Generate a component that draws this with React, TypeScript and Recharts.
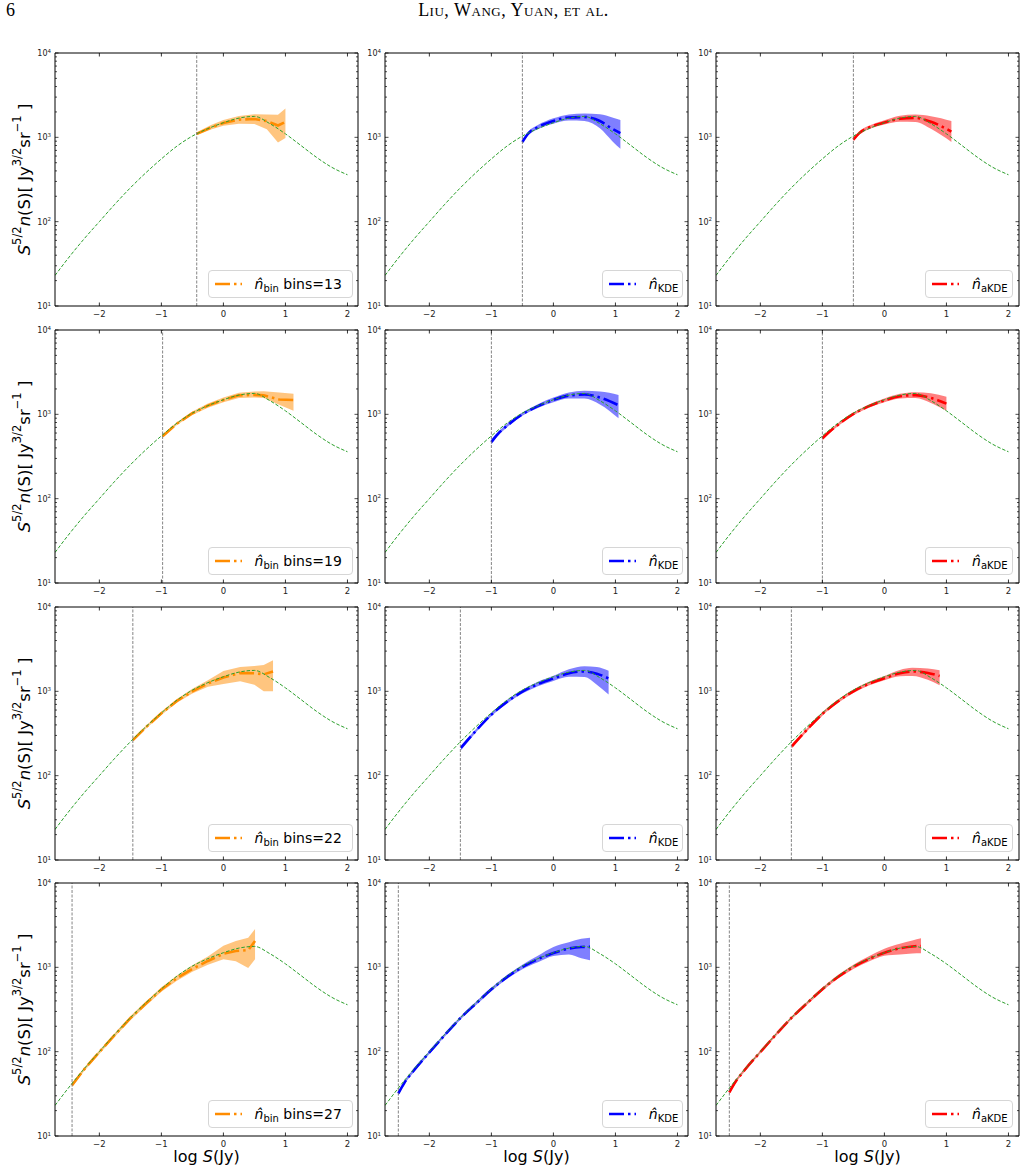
import React from "react";
import { ComposedChart, Line, Area, XAxis, YAxis, ReferenceLine, Legend } from "recharts";

// model source counts (green dashed curve), log S vs S^{5/2} n(S)
const modelLogS = [-2.715, -2.5, -2.25, -2, -1.75, -1.5, -1.25, -1, -0.75, -0.5, -0.25, 0, 0.25, 0.5, 0.75, 1, 1.25, 1.5, 1.75, 2];
const modelCounts = [23, 37, 62, 100, 161, 252, 380, 555, 785, 1035, 1268, 1490, 1690, 1770, 1450, 1100, 800, 580, 440, 360];

const xTicks = [-2, -1, 0, 1, 2];
const yMajorTicks = [10, 100, 1000, 10000];
const yMinorTicks = [20, 30, 40, 50, 60, 70, 80, 90, 200, 300, 400, 500, 600, 700, 800, 900, 2000, 3000, 4000, 5000, 6000, 7000, 8000, 9000];

// lower flux limits (vertical dashed line) per row: [bin, KDE, aKDE]
const lowerLimits = [
  [-0.43, -0.5, -0.5],
  [-0.98, -1.0, -1.0],
  [-1.46, -1.5, -1.5],
  [-2.44, -2.5, -2.5],
];
const binCounts = [13, 19, 22, 27];

// each row: [log S, estimate, lower, upper]
const bin13 = [
  [-0.43, 1100, 1060, 1150],
  [-0.2, 1310, 1240, 1400],
  [0.0, 1480, 1370, 1600],
  [0.25, 1620, 1450, 1790],
  [0.5, 1650, 1440, 1880],
  [0.7, 1560, 1250, 1860],
  [0.88, 1380, 870, 1850],
  [1.0, 1520, 980, 2200],
];
const kde1 = [
  [-0.5, 880, 850, 930],
  [-0.4, 1120, 1070, 1180],
  [-0.25, 1320, 1250, 1400],
  [0, 1560, 1450, 1680],
  [0.25, 1720, 1580, 1870],
  [0.5, 1740, 1560, 1920],
  [0.75, 1560, 1280, 1880],
  [0.95, 1260, 900, 1720],
  [1.08, 1120, 730, 1600],
];
const akde1 = [
  [-0.5, 940, 900, 1000],
  [-0.4, 1130, 1080, 1190],
  [-0.2, 1350, 1290, 1420],
  [0, 1500, 1420, 1590],
  [0.25, 1660, 1530, 1800],
  [0.5, 1700, 1520, 1860],
  [0.75, 1530, 1260, 1780],
  [1.08, 1170, 880, 1560],
];

const bin19 = [
  [-0.98, 550, 530, 575],
  [-0.75, 775, 745, 805],
  [-0.5, 1030, 980, 1080],
  [-0.25, 1270, 1200, 1340],
  [0, 1480, 1390, 1580],
  [0.25, 1680, 1560, 1800],
  [0.5, 1700, 1580, 1860],
  [0.65, 1680, 1560, 1880],
  [0.9, 1500, 1300, 1820],
  [1.13, 1480, 1100, 1750],
];
const kde2 = [
  [-1.0, 470, 440, 510],
  [-0.9, 580, 550, 610],
  [-0.75, 730, 700, 770],
  [-0.5, 1000, 960, 1050],
  [-0.25, 1250, 1190, 1320],
  [0, 1480, 1390, 1580],
  [0.25, 1670, 1540, 1820],
  [0.5, 1720, 1540, 1900],
  [0.75, 1580, 1310, 1870],
  [1.05, 1280, 900, 1700],
];
const akde2 = [
  [-1.0, 520, 490, 555],
  [-0.9, 610, 580, 640],
  [-0.75, 750, 720, 785],
  [-0.5, 1010, 970, 1050],
  [-0.25, 1250, 1200, 1310],
  [0, 1460, 1390, 1540],
  [0.25, 1640, 1540, 1750],
  [0.5, 1690, 1560, 1830],
  [0.75, 1560, 1360, 1780],
  [1.0, 1340, 1100, 1620],
];

const bin22 = [
  [-1.46, 264, 255, 275],
  [-1.25, 375, 360, 390],
  [-1.0, 550, 525, 575],
  [-0.75, 770, 730, 810],
  [-0.5, 1000, 940, 1070],
  [-0.25, 1240, 1130, 1350],
  [0, 1460, 1220, 1740],
  [0.27, 1650, 1320, 1940],
  [0.5, 1640, 1200, 2000],
  [0.65, 1590, 1000, 2050],
  [0.8, 1720, 1000, 2330],
];
const kde3 = [
  [-1.49, 214, 200, 228],
  [-1.25, 340, 325, 355],
  [-1.0, 530, 505, 555],
  [-0.75, 750, 715, 790],
  [-0.5, 990, 940, 1045],
  [-0.25, 1220, 1150, 1300],
  [0, 1420, 1330, 1530],
  [0.25, 1640, 1490, 1830],
  [0.5, 1720, 1480, 1990],
  [0.7, 1620, 1200, 1940],
  [0.89, 1420, 920, 1760],
];
const akde3 = [
  [-1.49, 224, 212, 236],
  [-1.25, 350, 335, 365],
  [-1.0, 540, 515, 565],
  [-0.75, 760, 725, 795],
  [-0.5, 1000, 955, 1050],
  [-0.25, 1230, 1170, 1295],
  [0, 1430, 1350, 1520],
  [0.25, 1640, 1510, 1790],
  [0.45, 1720, 1520, 1900],
  [0.7, 1650, 1370, 1860],
  [0.89, 1520, 1180, 1780],
];

const bin27 = [
  [-2.44, 40, 38, 42],
  [-2.25, 61, 58, 64],
  [-2.0, 99, 94, 104],
  [-1.75, 158, 150, 166],
  [-1.5, 250, 236, 265],
  [-1.25, 372, 350, 394],
  [-1.0, 545, 515, 580],
  [-0.75, 745, 695, 800],
  [-0.5, 960, 885, 1060],
  [-0.25, 1190, 1070, 1340],
  [0, 1450, 1250, 1800],
  [0.2, 1560, 1180, 2050],
  [0.4, 1600, 980, 2250],
  [0.51, 2050, 1250, 2850],
];
const kde4 = [
  [-2.5, 32, 30, 34],
  [-2.4, 43, 41, 45],
  [-2.25, 60, 57, 63],
  [-2.0, 98, 94, 102],
  [-1.75, 158, 151, 165],
  [-1.5, 250, 239, 261],
  [-1.25, 372, 355, 390],
  [-1.0, 548, 522, 576],
  [-0.75, 765, 725, 808],
  [-0.5, 1010, 950, 1075],
  [-0.25, 1250, 1150, 1370],
  [0, 1480, 1360, 1740],
  [0.25, 1670, 1420, 1980],
  [0.45, 1740, 1280, 2180],
  [0.59, 1750, 1210, 2250],
];
const akde4 = [
  [-2.5, 33, 31, 35],
  [-2.4, 44, 42, 46],
  [-2.25, 61, 58, 64],
  [-2.0, 99, 95, 103],
  [-1.75, 159, 152, 166],
  [-1.5, 251, 240, 262],
  [-1.25, 374, 357, 392],
  [-1.0, 550, 525, 578],
  [-0.75, 768, 730, 810],
  [-0.5, 1012, 955, 1075],
  [-0.25, 1255, 1170, 1350],
  [0, 1490, 1370, 1660],
  [0.25, 1680, 1420, 1900],
  [0.45, 1770, 1460, 2080],
  [0.59, 1790, 1465, 2210],
];

const estimates = [
  [bin13, kde1, akde1],
  [bin19, kde2, akde2],
  [bin22, kde3, akde3],
  [bin27, kde4, akde4],
];

const COLOR = {
  est: ["#ff8c00", "#0000ff", "#ff0000"],
  model: "#2ca02c",
  limit: "#666666",
  ink: "#000000",
  tickText: "#222222",
};

// layout of the 4x3 grid (page px)
const PLOT_W = 303;
const PLOT_H = 253;
const COL_LEFT = [55, 385.3, 715.5];
const ROW_TOP = [53.3, 330, 606.7, 883.3];
const X_DOMAIN = [-2.715, 2.17];
const FONT = "'DejaVu Sans', sans-serif";

const modelData = modelLogS.map((x, i) => ({ x, v: modelCounts[i] }));

const fmtX = (v: number) => (v < 0 ? `\u2212${Math.abs(v)}` : `${v}`);

function BottomTick(props: any) {
  const { x, y, payload } = props;
  return (
    <g>
      <line x1={x} y1={y} x2={x} y2={y - 3.5} stroke={COLOR.ink} strokeWidth={0.8} />
      <text x={x} y={y + 11} textAnchor="middle" fontSize={8.5} fontFamily={FONT} fill={COLOR.tickText}>
        {fmtX(payload.value)}
      </text>
    </g>
  );
}

function TopTick(props: any) {
  const { x, y } = props;
  return <line x1={x} y1={y} x2={x} y2={y + 3.5} stroke={COLOR.ink} strokeWidth={0.8} />;
}

function LeftTick(props: any) {
  const { x, y, payload } = props;
  const major = yMajorTicks.includes(payload.value);
  return (
    <g>
      <line x1={x} y1={y} x2={x + (major ? 3.5 : 2)} y2={y} stroke={COLOR.ink} strokeWidth={0.7} />
      {major && (
        <text x={x - 4} y={y + 3} textAnchor="end" fontSize={8} fontFamily={FONT} fill={COLOR.tickText}>
          <tspan>10</tspan>
          <tspan dy={-3.5} fontSize={5.5}>
            {Math.round(Math.log10(payload.value))}
          </tspan>
        </text>
      )}
    </g>
  );
}

function RightTick(props: any) {
  const { x, y, payload } = props;
  const major = yMajorTicks.includes(payload.value);
  return <line x1={x} y1={y} x2={x - (major ? 3.5 : 2)} y2={y} stroke={COLOR.ink} strokeWidth={0.7} />;
}

function YLabel(props: any) {
  const vb = props.viewBox || { y: 0, height: PLOT_H };
  const cy = vb.y + vb.height / 2;
  const cx = 24;
  return (
    <text
      x={cx}
      y={cy}
      transform={`rotate(-90, ${cx}, ${cy})`}
      textAnchor="middle"
      dominantBaseline="central"
      fontSize={16.5}
      fontFamily={FONT}
      fill="#000"
    >
      <tspan fontStyle="italic">S</tspan>
      <tspan dy={-7} fontSize={11.5}>5/2</tspan>
      <tspan dy={7} fontStyle="italic">n</tspan>
      <tspan>(S)[{"\u00a0"}Jy</tspan>
      <tspan dy={-7} fontSize={11.5}>3/2</tspan>
      <tspan dy={7}>sr</tspan>
      <tspan dy={-7} fontSize={11.5}>{"\u2212"}1</tspan>
      <tspan dy={7}>{"\u00a0"}]</tspan>
    </text>
  );
}

function XLabel(props: any) {
  const vb = props.viewBox || { x: 0, y: 0, width: PLOT_W };
  const cx = vb.x + vb.width / 2;
  const cy = vb.y + 26;
  return (
    <text x={cx} y={cy} textAnchor="middle" fontSize={16} fontFamily={FONT} fill="#000">
      <tspan>log{"\u00a0"}</tspan>
      <tspan fontStyle="italic">S</tspan>
      <tspan>(Jy)</tspan>
    </text>
  );
}

function LegendBox({ color, sub, extra }: { color: string; sub: string; extra?: string }) {
  return (
    <div
      style={{
        boxSizing: "border-box",
        width: "100%",
        height: "100%",
        border: "1px solid #d6d6d6",
        borderRadius: 4,
        background: "rgba(255,255,255,0.85)",
        display: "flex",
        alignItems: "center",
        paddingLeft: 6,
        fontFamily: FONT,
        fontSize: 14,
        color: "#000",
        whiteSpace: "nowrap",
      }}
    >
      <svg width={27} height={10} style={{ flex: "none" }}>
        <line x1={0} y1={5} x2={27} y2={5} stroke={color} strokeWidth={2.6} strokeDasharray="15 4 2.5 4" />
      </svg>
      <span style={{ marginLeft: 13 }}>
        <i>{"n\u0302"}</i>
        <span style={{ fontSize: 10, position: "relative", top: 3 }}>{sub}</span>
        {extra ? <span>{"\u00a0"}{extra}</span> : null}
      </span>
    </div>
  );
}

const LEGEND_W = [145, 81, 88];

function Panel({ row, col }: { row: number; col: number }) {
  const yAxisW = col === 0 ? 55 : 30;
  const topH = 8;
  const rightW = 8;
  const bottomH = row === 3 ? 38 : 18;
  const width = yAxisW + PLOT_W + rightW;
  const height = topH + PLOT_H + bottomH;
  const left = COL_LEFT[col] - yAxisW;
  const top = ROW_TOP[row] - topH;
  const rows = estimates[row][col].map(([x, m, lo, hi]) => ({ x, m, lo, hi }));
  const color = COLOR.est[col];
  const isBin = col === 0;
  const legW = LEGEND_W[col];
  const sub = col === 0 ? "bin" : col === 1 ? "KDE" : "aKDE";
  const extra = col === 0 ? `bins=${binCounts[row]}` : undefined;

  return (
    <div style={{ position: "absolute", left, top, width, height }}>
      <ComposedChart
        width={width}
        height={height}
        data={modelData}
        margin={{ top: 0, right: 0, bottom: 0, left: 0 }}
        style={{ overflow: "visible" }}
      >
        <XAxis
          xAxisId="b"
          type="number"
          dataKey="x"
          domain={X_DOMAIN}
          allowDataOverflow
          ticks={xTicks}
          interval={0}
          height={bottomH}
          tickSize={0}
          tickMargin={0}
          tick={<BottomTick />}
          axisLine={{ stroke: COLOR.ink, strokeWidth: 1 }}
          tickLine={false}
          label={row === 3 ? { content: <XLabel /> } : undefined}
        />
        <XAxis
          xAxisId="t"
          orientation="top"
          type="number"
          dataKey="x"
          domain={X_DOMAIN}
          allowDataOverflow
          ticks={xTicks}
          interval={0}
          height={topH}
          tickSize={0}
          tickMargin={0}
          tick={<TopTick />}
          axisLine={{ stroke: COLOR.ink, strokeWidth: 1 }}
          tickLine={false}
        />
        <YAxis
          yAxisId="l"
          type="number"
          scale="log"
          domain={[10, 10000]}
          allowDataOverflow
          ticks={[...yMajorTicks, ...yMinorTicks]}
          interval={0}
          width={yAxisW}
          tickSize={0}
          tickMargin={0}
          tick={<LeftTick />}
          axisLine={{ stroke: COLOR.ink, strokeWidth: 1 }}
          tickLine={false}
          label={col === 0 ? { content: <YLabel /> } : undefined}
        />
        <YAxis
          yAxisId="r"
          orientation="right"
          type="number"
          scale="log"
          domain={[10, 10000]}
          allowDataOverflow
          ticks={[...yMajorTicks, ...yMinorTicks]}
          interval={0}
          width={rightW}
          tickSize={0}
          tickMargin={0}
          tick={<RightTick />}
          axisLine={{ stroke: COLOR.ink, strokeWidth: 1 }}
          tickLine={false}
        />
        <Area
          xAxisId="b"
          yAxisId="l"
          data={rows}
          dataKey={(d: any) => [d.lo, d.hi]}
          type={isBin ? "linear" : "monotone"}
          stroke="none"
          fill={color}
          fillOpacity={0.5}
          isAnimationActive={false}
          activeDot={false}
        />
        <Line
          xAxisId="b"
          yAxisId="l"
          data={rows}
          dataKey="m"
          type={isBin ? "linear" : "monotone"}
          stroke={color}
          strokeWidth={2.6}
          strokeDasharray="15 4 2.5 4"
          dot={false}
          activeDot={false}
          isAnimationActive={false}
        />
        <Line
          xAxisId="b"
          yAxisId="l"
          dataKey="v"
          type="monotone"
          stroke={COLOR.model}
          strokeWidth={1}
          strokeDasharray="3.5 1.8"
          dot={false}
          activeDot={false}
          isAnimationActive={false}
        />
        <ReferenceLine
          xAxisId="b"
          yAxisId="l"
          x={lowerLimits[row][col]}
          stroke={COLOR.limit}
          strokeWidth={0.8}
          strokeDasharray="3 1.5"
        />
        <Legend
          layout="vertical"
          align="center"
          verticalAlign="middle"
          content={() => <LegendBox color={color} sub={sub} extra={extra} />}
          wrapperStyle={{
            left: yAxisW + PLOT_W - 5.5 - legW,
            top: topH + PLOT_H - 8 - 28,
            width: legW,
            height: 28,
          }}
        />
      </ComposedChart>
    </div>
  );
}

export default function App() {
  const panels = [];
  for (let r = 0; r < 4; r++) {
    for (let c = 0; c < 3; c++) {
      panels.push(<Panel key={`${r}-${c}`} row={r} col={c} />);
    }
  }
  return (
    <div style={{ position: "absolute", left: 0, top: 0, width: 1027, height: 1172, background: "#fff" }}>
      <div style={{ position: "absolute", left: 6, top: 0, fontFamily: "'Liberation Serif', serif", fontSize: 18 }}>6</div>
      <div
        style={{
          position: "absolute",
          left: 0,
          width: 1027,
          top: 0,
          textAlign: "center",
          fontFamily: "'Liberation Serif', serif",
          fontSize: 18,
          fontVariant: "small-caps",
          letterSpacing: 0.5,
        }}
      >
        Liu, Wang, Yuan, et al.
      </div>
      {panels}
    </div>
  );
}
